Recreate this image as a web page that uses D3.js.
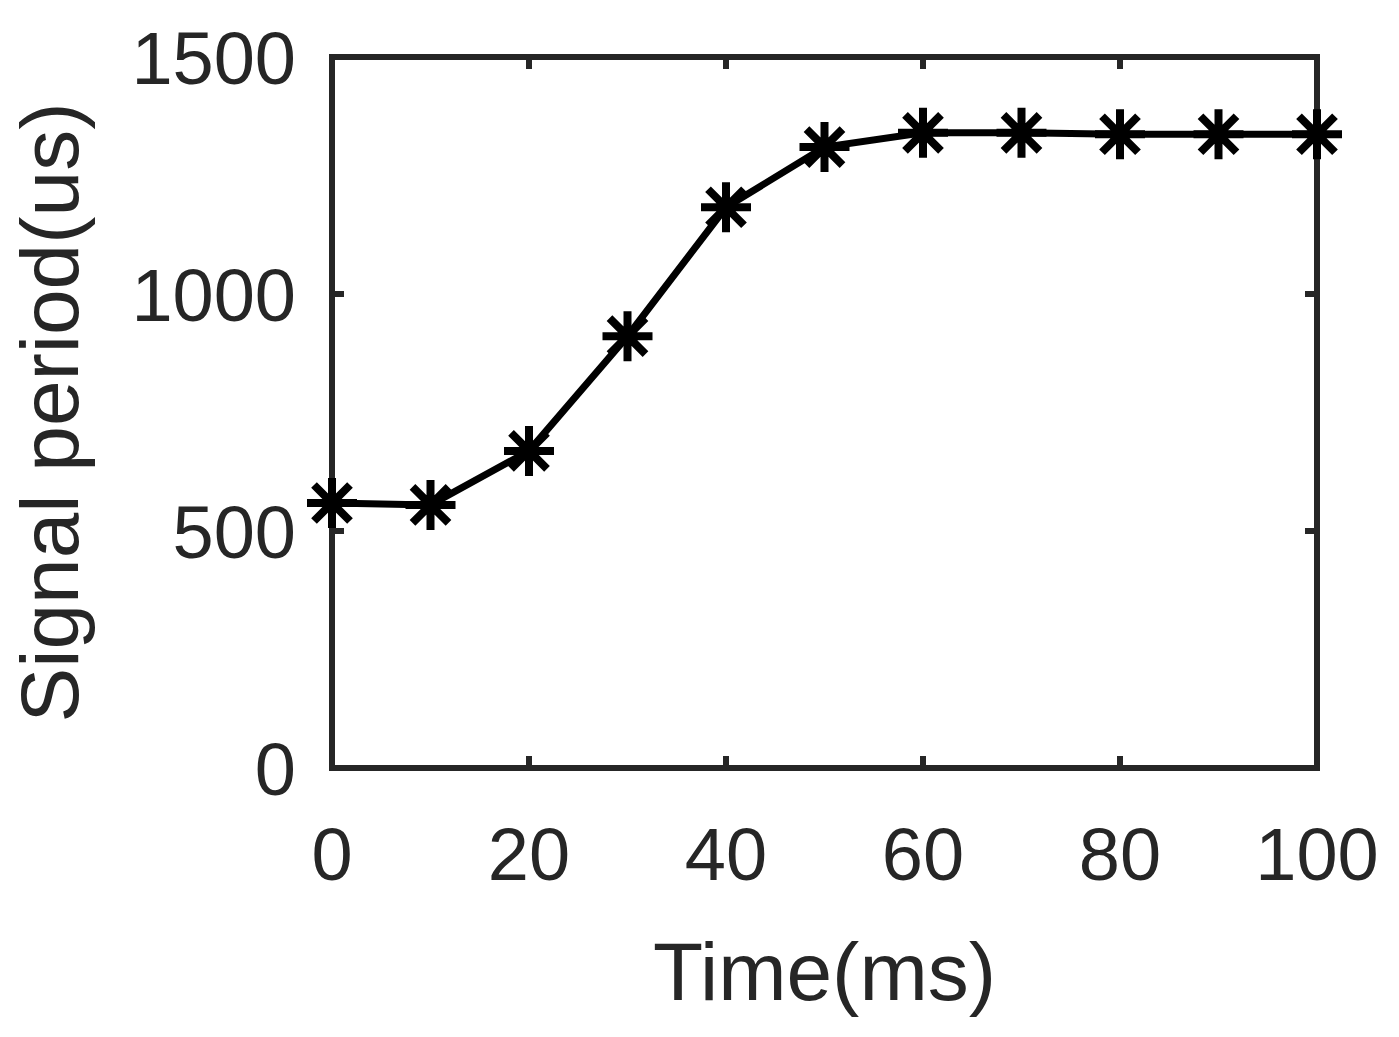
<!DOCTYPE html>
<html><head><meta charset="utf-8">
<script src="https://cdn.jsdelivr.net/npm/d3@7"></script>
<style>body{margin:0;background:#fff}svg{font-family:"Liberation Sans",Arial,sans-serif}</style>
</head><body><svg width="1399" height="1037"></svg>
<script>
const times = [0,10,20,30,40,50,60,70,80,90,100];
const periods = [559,555,669,911,1183,1310,1340,1340,1337,1337,1337];
const xTicks = [0,20,40,60,80,100];
const yTicks = [0,500,1000,1500];

const svg = d3.select('svg');
const m = {l:332, r:1317, t:57, b:768};
const x = d3.scaleLinear().domain([0,100]).range([m.l,m.r]);
const y = d3.scaleLinear().domain([0,1500]).range([m.b,m.t]);
const col = '#262626';

// inner tick marks on all four sides
xTicks.forEach(t => {
  svg.append('line').attr('x1',x(t)).attr('x2',x(t)).attr('y1',m.b).attr('y2',m.b-12).attr('stroke',col).attr('stroke-width',6);
  svg.append('line').attr('x1',x(t)).attr('x2',x(t)).attr('y1',m.t).attr('y2',m.t+12).attr('stroke',col).attr('stroke-width',6);
  svg.append('text').attr('x',x(t)).attr('y',m.b+112).attr('text-anchor','middle').attr('font-size',74).attr('fill',col).text(t);
});
yTicks.forEach(t => {
  svg.append('line').attr('x1',m.l).attr('x2',m.l+12).attr('y1',y(t)).attr('y2',y(t)).attr('stroke',col).attr('stroke-width',6);
  svg.append('line').attr('x1',m.r).attr('x2',m.r-12).attr('y1',y(t)).attr('y2',y(t)).attr('stroke',col).attr('stroke-width',6);
  svg.append('text').attr('x',m.l-36).attr('y',y(t)+27).attr('text-anchor','end').attr('font-size',74).attr('fill',col).text(t);
});
svg.append('rect').attr('x',m.l).attr('y',m.t).attr('width',m.r-m.l).attr('height',m.b-m.t)
  .attr('fill','none').attr('stroke',col).attr('stroke-width',6);

svg.append('text').attr('x',(m.l+m.r)/2).attr('y',1000).attr('text-anchor','middle').attr('font-size',82).attr('fill',col).text('Time(ms)');
svg.append('text').attr('transform','translate(78,'+((m.t+m.b)/2)+') rotate(-90)').attr('text-anchor','middle').attr('font-size',82).attr('fill',col).text('Signal period(us)');

const line = d3.line().x((d,i)=>x(times[i])).y(d=>y(d));
svg.append('path').datum(periods).attr('d',line).attr('fill','none').attr('stroke','#000').attr('stroke-width',7);

const s = 25;
periods.forEach((v,i) => {
  const g = svg.append('g').attr('transform',`translate(${x(times[i])},${y(v)})`);
  const p = `M${-s},0H${s}M0,${-s}V${s}M${-s*0.72},${-s*0.72}L${s*0.72},${s*0.72}M${-s*0.72},${s*0.72}L${s*0.72},${-s*0.72}`;
  g.append('path').attr('d',p).attr('stroke','#000').attr('stroke-width',8).attr('fill','none');
});
</script></body></html>
